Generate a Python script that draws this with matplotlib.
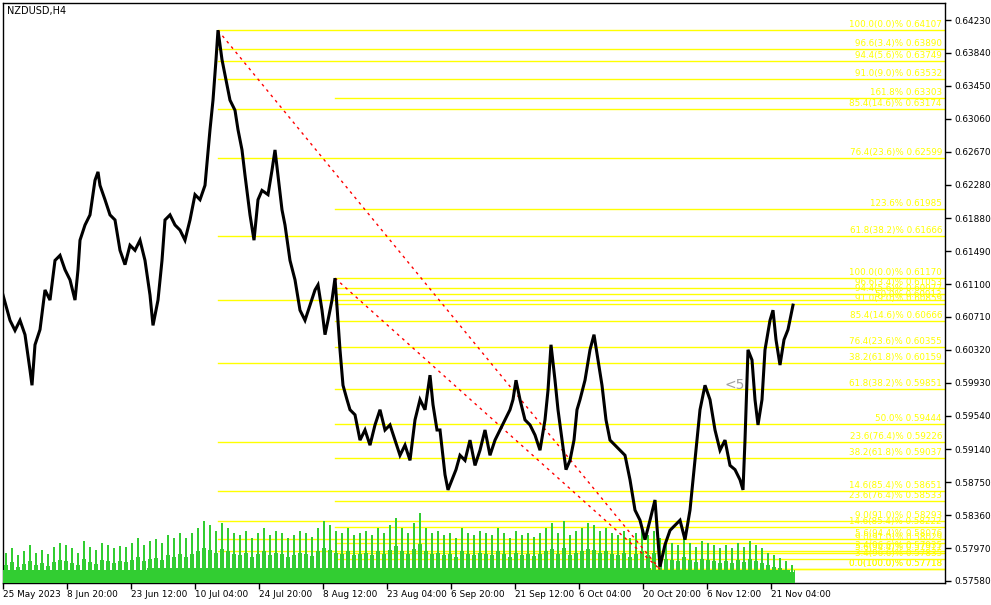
import matplotlib
matplotlib.use("Agg")
import matplotlib.pyplot as plt
import matplotlib.transforms as mtransforms
import numpy as np

# ---------------- data ----------------
symbol_title = "NZDUSD,H4"

# sampled H4 bar index (from 25 May 2023) and price
bar_idx = [0, 7, 12, 17, 22, 27, 29, 32, 37, 42, 47, 52, 57, 62, 67, 72, 75, 77, 82, 87,
           92, 95, 97, 102, 107, 112, 117, 122, 127, 132, 137, 142, 147, 150, 155, 159, 162, 167, 172, 177,
           182, 187, 192, 197, 202, 207, 210, 213, 215, 219, 223, 227, 232, 235, 239, 242, 247, 251, 255, 259,
           265, 269, 272, 275, 279, 282, 287, 292, 297, 302, 307, 312, 315, 319, 322, 325, 329, 332, 335, 337,
           340, 344, 347, 352, 357, 362, 367, 372, 377, 382, 387, 392, 397, 402, 407, 412, 417, 422, 427, 430,
           434, 437, 442, 445, 449, 453, 457, 462, 467, 472, 477, 482, 487, 492, 497, 502, 507, 510, 513, 517,
           522, 527, 532, 537, 542, 545, 548, 552, 555, 559, 563, 567, 571, 574, 577, 582, 587, 591, 595, 599,
           603, 607, 612, 617, 622, 627, 632, 637, 642, 647, 652, 655, 657, 662, 667, 672, 677, 682, 687, 692,
           697, 702, 707, 712, 717, 722, 727, 732, 737, 740, 742, 745, 749, 752, 755, 759, 762, 767, 770, 773,
           777, 781, 785, 790]
close = [0.6097, 0.6067, 0.6055, 0.6067, 0.6050, 0.6008, 0.5990, 0.6038, 0.6056, 0.6103, 0.6091, 0.6138, 0.6144, 0.6127, 0.6115, 0.6091, 0.6127, 0.6162, 0.6180, 0.6192,
         0.6233, 0.6243, 0.6227, 0.6210, 0.6192, 0.6186, 0.6150, 0.6133, 0.6156, 0.6150, 0.6162, 0.6138, 0.6097, 0.6061, 0.6091, 0.6138, 0.6186, 0.6192, 0.6180, 0.6174,
         0.6162, 0.6186, 0.6216, 0.6210, 0.6227, 0.6293, 0.6328, 0.6376, 0.6411, 0.6376, 0.6352, 0.6328, 0.6316, 0.6293, 0.6269, 0.6239, 0.6192, 0.6162, 0.6210, 0.6221,
         0.6216, 0.6245, 0.6269, 0.6239, 0.6198, 0.6180, 0.6138, 0.6115, 0.6079, 0.6067, 0.6085, 0.6103, 0.6109, 0.6079, 0.6050, 0.6067, 0.6091, 0.6117, 0.6067, 0.6032,
         0.5990, 0.5973, 0.5961, 0.5955, 0.5925, 0.5937, 0.5919, 0.5943, 0.5961, 0.5937, 0.5943, 0.5925, 0.5907, 0.5919, 0.5901, 0.5949, 0.5973, 0.5961, 0.6002, 0.5967,
         0.5937, 0.5937, 0.5884, 0.5866, 0.5878, 0.5890, 0.5907, 0.5901, 0.5925, 0.5895, 0.5913, 0.5937, 0.5907, 0.5925, 0.5937, 0.5949, 0.5961, 0.5973, 0.5996, 0.5973,
         0.5949, 0.5943, 0.5931, 0.5913, 0.5949, 0.5984, 0.6038, 0.5996, 0.5961, 0.5925, 0.5890, 0.5901, 0.5925, 0.5961, 0.5973, 0.5996, 0.6032, 0.6050, 0.6020, 0.5990,
         0.5949, 0.5925, 0.5919, 0.5913, 0.5907, 0.5878, 0.5842, 0.5830, 0.5807, 0.5830, 0.5854, 0.5807, 0.5775, 0.5801, 0.5818, 0.5824, 0.5830, 0.5807, 0.5842, 0.5901,
         0.5961, 0.5990, 0.5973, 0.5937, 0.5913, 0.5925, 0.5895, 0.5890, 0.5878, 0.5866, 0.5925, 0.6032, 0.6020, 0.5973, 0.5943, 0.5973, 0.6032, 0.6067, 0.6079, 0.6044,
         0.6014, 0.6044, 0.6056, 0.6085]

# daily tick-volume: peak bar, typical bar, and quiet-hours bar (one value per 6 bars)
vol_peak = [3000, 3500, 2800, 3200, 3800, 3000, 3300, 2900, 3600, 4000,
            3800, 3500, 3000, 4200, 3600, 3300, 4000, 3800, 3500, 3700,
            3600, 4000, 4500, 3800, 4200, 4400, 4000, 4800, 4500, 5000,
            4500, 5000, 5500, 6200, 5800, 5200, 6000, 5500, 5000, 4800,
            5200, 4500, 5000, 5500, 4800, 5200, 5000, 4500, 4800, 5200,
            5000, 4600, 5500, 6200, 5800, 5200, 5000, 5500, 4800, 5000,
            5200, 4800, 5500, 5000, 5800, 6500, 5500, 5000, 6000, 7000,
            5500, 5000, 5200, 4800, 5000, 4500, 5500, 5000, 4800, 5200,
            5000, 4800, 5500, 5000, 4500, 5200, 4800, 5000, 4600, 5000,
            5500, 6000, 5000, 6200, 4800, 5200, 5500, 6000, 5800, 5200,
            5500, 5000, 4800, 5200, 4500, 5000, 5500, 4800, 5200, 4500,
            4200, 4000, 3800, 4500, 4000, 3600, 4200, 4000, 3800, 3500,
            3800, 3500, 4000, 3600, 4200, 3800, 3500, 3000, 2800, 2500, 2200, 1800]
vol_mid = [1800, 2100, 1600, 1900, 2200, 1800, 2000, 1700, 2100, 2300,
           2200, 2000, 1800, 2400, 2100, 1900, 2300, 2200, 2000, 2200,
           2100, 2300, 2600, 2200, 2400, 2500, 2300, 2800, 2600, 2900,
           2600, 2900, 3200, 3500, 3300, 3000, 3400, 3200, 2900, 2800,
           3000, 2600, 2900, 3200, 2800, 3000, 2900, 2600, 2800, 3000,
           2900, 2700, 3200, 3500, 3300, 3000, 2900, 3200, 2800, 2900,
           3000, 2800, 3200, 2900, 3300, 3700, 3200, 2900, 3400, 3900,
           3200, 2900, 3000, 2800, 2900, 2600, 3200, 2900, 2800, 3000,
           2900, 2800, 3200, 2900, 2600, 3000, 2800, 2900, 2700, 2900,
           3200, 3400, 2900, 3500, 2800, 3000, 3200, 3400, 3300, 3000,
           3200, 2900, 2800, 3000, 2600, 2900, 3200, 2800, 3000, 2600,
           2400, 2300, 2200, 2600, 2300, 2100, 2400, 2300, 2200, 2000,
           2200, 2000, 2300, 2100, 2400, 2200, 2000, 1800, 1600, 1500, 1300, 1100]
vol_quiet = [1300] * 24 + [1500] * 84 + [1300] * 24
vol_floor = [700] * 24 + [800] * 84 + [700] * 24

# Fibonacci retracements: (start bar, high price, end bar, low price)
fib1 = (215, 0.64107, 657, 0.57718)
fib2 = (332, 0.61170, 657, 0.57718)
fib_ratios = [1.0, 0.966, 0.944, 0.91, 0.854, 0.764, 0.618, 0.5, 0.382, 0.236, 0.146, 0.09, 0.056, 0.034, 0.0]
fib_names = ["100.0(0.0)%", "96.6(3.4)%", "94.4(5.6)%", "91.0(9.0)%", "85.4(14.6)%", "76.4(23.6)%",
             "61.8(38.2)%", "50.0%", "38.2(61.8)%", "23.6(76.4)%", "14.6(85.4)%", "9.0(91.0)%",
             "5.6(94.4)%", "3.4(96.6)%", "0.0(100.0)%"]
fib2_ext_ratios = [1.618, 1.236]
fib2_ext_names = ["161.8%", "123.6%"]

price_ticks = [0.64230, 0.63840, 0.63450, 0.63060, 0.62670, 0.62280, 0.61880, 0.61490, 0.61100,
               0.60710, 0.60320, 0.59930, 0.59540, 0.59140, 0.58750, 0.58360, 0.57970, 0.57580]
time_labels = ["25 May 2023", "8 Jun 20:00", "23 Jun 12:00", "10 Jul 04:00", "24 Jul 20:00",
               "8 Aug 12:00", "23 Aug 04:00", "6 Sep 20:00", "21 Sep 12:00", "6 Oct 04:00",
               "20 Oct 20:00", "6 Nov 12:00", "21 Nov 04:00"]
bars_per_label = 64
total_bars = 942

# ---------------- figure ----------------
W, H = 991, 605
fig = plt.figure(figsize=(W / 100, H / 100), dpi=100, facecolor="white")
rect = [3 / W, (H - 583) / H, (945 - 3) / W, (583 - 3) / H]

ax = fig.add_axes(rect)
ax.set_facecolor("white")
ax.set_xlim(0, total_bars)
ax.set_ylim(0.57556, 0.64432)

yellow = "#FFFF00"
green = "#32CD32"
fs = 6.3

# volume (bottom of the price window, own scale)
vol_scale = 58000.0
vtr = mtransforms.blended_transform_factory(ax.transData, ax.transAxes)
vx = np.arange(len(vol_peak)) * 6
ax.bar(vx, np.array(vol_floor) / vol_scale, width=6, align="edge", color=green,
       linewidth=0, transform=vtr, zorder=3, antialiased=False)
for off, wdt, arr in [(0, 1, vol_quiet), (1, 1, vol_mid), (2, 2, vol_peak), (4, 1, vol_mid), (5, 1, vol_quiet)]:
    ax.bar(vx + off, np.array(arr) / vol_scale, width=wdt, align="edge", color=green,
           linewidth=0, transform=vtr, zorder=3, antialiased=False)


def draw_fib(f, ratios, names):
    x0, hi, x1, lo = f
    for r, n in zip(ratios, names):
        lvl = lo + r * (hi - lo)
        ax.plot([x0, total_bars], [lvl, lvl], color=yellow, lw=1.0, zorder=2)
        ax.text(total_bars - 3, lvl + 0.00012, f"{n} {lvl:.5f}", color=yellow, fontsize=fs,
                ha="right", va="bottom", zorder=6)
    ax.plot([x0, x1], [hi, lo], color="#FF0000", lw=1.0, linestyle=(0, (2, 3)), zorder=4)


draw_fib(fib1, fib_ratios, fib_names)
draw_fib(fib2, fib_ratios, fib_names)
x0, hi, x1, lo = fib2
for r, n in zip(fib2_ext_ratios, fib2_ext_names):
    lvl = lo + r * (hi - lo)
    ax.plot([x0, total_bars], [lvl, lvl], color=yellow, lw=1.0, zorder=2)
    ax.text(total_bars - 3, lvl + 0.00012, f"{n} {lvl:.5f}", color=yellow, fontsize=fs,
            ha="right", va="bottom", zorder=6)

ax.plot(bar_idx, close, color="black", lw=2.2, zorder=5, solid_joinstyle="miter")

ax.text(4, 0.64432 - 0.00030, symbol_title, fontsize=7, color="black", ha="left", va="top")
ax.text(722, 0.5990, "<5", fontsize=10, color="#A0A0A0", ha="left", va="center", zorder=7)

# axes styling
ax.yaxis.tick_right()
ax.set_yticks(price_ticks)
ax.set_yticklabels([f"{p:.5f}" for p in price_ticks], fontsize=6.4)
ax.tick_params(axis="y", direction="out", length=4, width=1, pad=3, colors="black")
xt = [i * bars_per_label for i in range(len(time_labels))]
ax.set_xticks(xt)
ax.set_xticklabels(time_labels, fontsize=6.4, ha="left")
ax.tick_params(axis="x", direction="out", length=4, width=1, pad=1)
for s in ax.spines.values():
    s.set_color("black")
    s.set_linewidth(1)

fig.savefig("out.png", dpi=100, facecolor="white")
